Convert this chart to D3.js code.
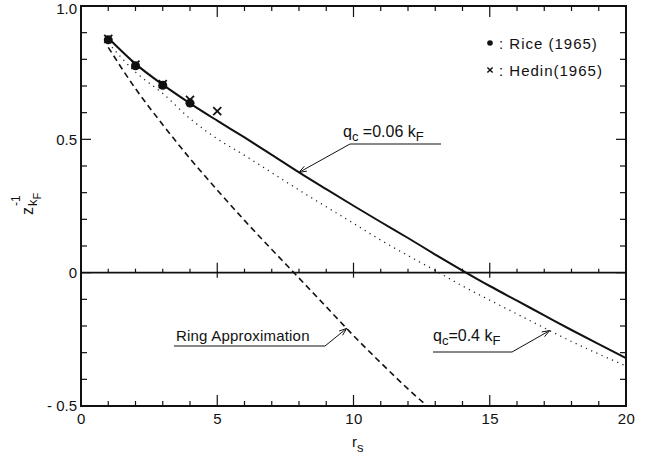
<!DOCTYPE html>
<html>
<head>
<meta charset="utf-8">
<script src="https://cdn.jsdelivr.net/npm/d3@7/dist/d3.min.js"></script>
<style>
  html, body { margin: 0; padding: 0; background: #fff; }
  svg { display: block; }
  text { font-family: "Liberation Sans", Arial, sans-serif; fill: #111; }
</style>
</head>
<body>
<svg id="chart" width="647" height="457"></svg>
<script>
// r_s grid shared by the two screened curves
const rsGrid = [1, 2, 3, 4, 5, 6, 7, 8, 9, 10, 11, 12, 13, 14, 15, 16, 17, 18, 19, 20];
// z_kF^-1 with q_c = 0.06 k_F (solid)
const zSoft = [0.880, 0.783, 0.705, 0.635, 0.570, 0.507, 0.442, 0.376, 0.313, 0.251, 0.190, 0.130, 0.068, 0.008, -0.050, -0.105, -0.160, -0.215, -0.268, -0.320];
// z_kF^-1 with q_c = 0.4 k_F (dotted)
const zHard = [0.862, 0.752, 0.672, 0.578, 0.502, 0.440, 0.375, 0.310, 0.247, 0.185, 0.122, 0.064, 0.008, -0.050, -0.103, -0.155, -0.207, -0.258, -0.305, -0.350];
// ring approximation (dashed)
const ringRs = [1, 2, 3, 4, 5, 6, 7, 8, 9, 10, 11, 12, 12.7];
const zRing = [0.845, 0.690, 0.555, 0.428, 0.310, 0.196, 0.087, -0.020, -0.128, -0.236, -0.338, -0.436, -0.500];
// literature points
const riceRs = [1, 2, 3, 4];
const riceZ = [0.873, 0.776, 0.703, 0.636];
const hedinRs = [1, 2, 3, 4, 5];
const hedinZ = [0.877, 0.780, 0.707, 0.648, 0.606];
// tick values
const xMajor = [0, 5, 10, 15, 20];
const xMinor = d3.range(0, 21, 1);
const yMajor = [-0.5, 0, 0.5, 1.0];
const yMinor = d3.range(-5, 11, 1).map(d => d / 10);

const svg = d3.select("#chart");
const padL = 81, padR = 626, padT = 6, padB = 406;
const x = d3.scaleLinear().domain([0, 20]).range([padL, padR]);
const y = d3.scaleLinear().domain([-0.5, 1.0]).range([padB, padT]);

const ink = "#111";
const isMajorX = d => xMajor.includes(d);
const isMajorY = d => yMajor.some(m => Math.abs(m - d) < 1e-9);

// inward tick marks: x ticks along a horizontal edge, y ticks along a vertical edge
function xTicks(y0, dir, minorLen, majorLen, values) {
  svg.append("g").selectAll("line").data(values).join("line")
    .attr("x1", d => x(d)).attr("x2", d => x(d))
    .attr("y1", y0).attr("y2", d => y0 + dir * (isMajorX(d) ? majorLen : minorLen))
    .attr("stroke", ink).attr("stroke-width", 1.2);
}
function yTicks(x0, dir, minorLen, majorLen) {
  svg.append("g").selectAll("line").data(yMinor).join("line")
    .attr("y1", d => y(d)).attr("y2", d => y(d))
    .attr("x1", x0).attr("x2", d => x0 + dir * (isMajorY(d) ? majorLen : minorLen))
    .attr("stroke", ink).attr("stroke-width", 1.2);
}
xTicks(padB, -1, 5, 11, xMinor);
xTicks(padT, 1, 5, 11, xMinor);
yTicks(padL, 1, 6, 10);
yTicks(padR, -1, 6, 10);

// zero line with its own ticks
svg.append("line").attr("x1", padL).attr("x2", padR)
  .attr("y1", y(0)).attr("y2", y(0)).attr("stroke", ink).attr("stroke-width", 1.6);
xTicks(y(0), -1, 4, 10, xMinor.filter(d => d > 0 && d < 20));
xTicks(y(0), 1, 0, 5, xMajor.slice(1, -1));

// frame
svg.append("rect").attr("x", padL).attr("y", padT)
  .attr("width", padR - padL).attr("height", padB - padT)
  .attr("fill", "none").attr("stroke", ink).attr("stroke-width", 2);

// tick labels
const fmtY = d => d === 0 ? "0" : (d < 0 ? "- 0.5" : d3.format(".1f")(d));
const gx = svg.append("g").attr("transform", `translate(0,${padB})`)
  .call(d3.axisBottom(x).tickValues(xMajor).tickSize(0).tickPadding(7).tickFormat(d3.format("d")));
gx.select(".domain").remove();
gx.selectAll("text").attr("font-size", 15).attr("fill", ink)
  .style("font-family", '"Liberation Sans", Arial, sans-serif').attr("letter-spacing", 0.5);
const gy = svg.append("g").attr("transform", `translate(${padL},0)`)
  .call(d3.axisLeft(y).tickValues(yMajor).tickSize(0).tickPadding(4).tickFormat(fmtY));
gy.select(".domain").remove();
gy.selectAll("text").attr("font-size", 15).attr("fill", ink)
  .style("font-family", '"Liberation Sans", Arial, sans-serif')
  .attr("y", d => d === 1 ? 2.5 : 0);

// axis titles
const xt = svg.append("text").attr("x", 352).attr("y", 447).attr("font-size", 15);
xt.append("tspan").text("r");
xt.append("tspan").attr("dy", 5).attr("font-size", 13).text("s");

const yt = svg.append("g").attr("transform", "translate(33,215) rotate(-90)");
yt.append("text").attr("x", 0).attr("y", 0).attr("font-size", 16).text("z");
const ysub = yt.append("text").attr("x", 9).attr("y", 4).attr("font-size", 13);
ysub.append("tspan").text("k");
ysub.append("tspan").attr("dy", 4).attr("font-size", 11).text("F");
yt.append("text").attr("x", 9).attr("y", -13).attr("font-size", 12).text("-1");

// curves
svg.append("clipPath").attr("id", "clip").append("rect")
  .attr("x", padL).attr("y", padT).attr("width", padR - padL).attr("height", padB - padT);
const plot = svg.append("g").attr("clip-path", "url(#clip)");
const line = d3.line().x(d => x(d[0])).y(d => y(d[1])).curve(d3.curveMonotoneX);

plot.append("path").datum(d3.zip(rsGrid, zSoft)).attr("d", line)
  .attr("fill", "none").attr("stroke", ink).attr("stroke-width", 2);
plot.append("path").datum(d3.zip(rsGrid, zHard)).attr("d", line)
  .attr("fill", "none").attr("stroke", "#222").attr("stroke-width", 1.3)
  .attr("stroke-dasharray", "1.2,4.5");
plot.append("path").datum(d3.zip(ringRs, zRing)).attr("d", line)
  .attr("fill", "none").attr("stroke", ink).attr("stroke-width", 1.6)
  .attr("stroke-dasharray", "6,4");

// literature points
plot.selectAll(".rice").data(d3.zip(riceRs, riceZ)).join("circle")
  .attr("cx", d => x(d[0])).attr("cy", d => y(d[1])).attr("r", 4.5).attr("fill", ink);
const cross = (g, cx, cy, s, w) => {
  g.append("line").attr("x1", cx - s).attr("y1", cy - s).attr("x2", cx + s).attr("y2", cy + s)
    .attr("stroke", ink).attr("stroke-width", w);
  g.append("line").attr("x1", cx - s).attr("y1", cy + s).attr("x2", cx + s).attr("y2", cy - s)
    .attr("stroke", ink).attr("stroke-width", w);
};
d3.zip(hedinRs, hedinZ).forEach(d => cross(plot, x(d[0]), y(d[1]), 4, 1.8));

// legend
svg.append("circle").attr("cx", 490).attr("cy", 43).attr("r", 2.8).attr("fill", ink);
svg.append("text").attr("x", 499).attr("y", 48.5).attr("font-size", 15)
  .attr("letter-spacing", 1.0).text(": Rice (1965)");
cross(svg, 490, 70, 2.6, 1.4);
svg.append("text").attr("x", 499).attr("y", 75.5).attr("font-size", 15)
  .attr("letter-spacing", 1.0).text(": Hedin(1965)");

// callouts with leader lines and arrow heads
const interp = (xs, ys, v) => d3.scaleLinear().domain(xs).range(ys)(v);
function callout(tip, corner, ulEnd) {
  svg.append("polyline")
    .attr("points", [[ulEnd, corner[1]], corner, tip].map(p => p.join(",")).join(" "))
    .attr("fill", "none").attr("stroke", ink).attr("stroke-width", 1);
  const ang = Math.atan2(corner[1] - tip[1], corner[0] - tip[0]);
  const L = 8, a = 0.35;
  const p1 = [tip[0] + L * Math.cos(ang + a), tip[1] + L * Math.sin(ang + a)];
  const p2 = [tip[0] + L * Math.cos(ang - a), tip[1] + L * Math.sin(ang - a)];
  svg.append("polyline").attr("points", [p1, tip, p2].map(p => p.join(",")).join(" "))
    .attr("fill", "none").attr("stroke", ink).attr("stroke-width", 1);
}
callout([x(8), y(interp(rsGrid, zSoft, 8))], [350, 144], 441);
callout([x(9.75), y(interp(ringRs, zRing, 9.75))], [325, 346], 174);
callout([x(17.2), y(interp(rsGrid, zHard, 17.2))], [512, 352], 433);

function qLabel(xp, yp, value) {
  const t = svg.append("text").attr("x", xp).attr("y", yp).attr("font-size", 16);
  t.append("tspan").text("q");
  t.append("tspan").attr("dy", 4).attr("font-size", 13).text("c");
  t.append("tspan").attr("dy", -4).text(value);
  t.append("tspan").attr("dy", 4).attr("font-size", 13).text("F");
}
qLabel(343, 137, " =0.06 k");
qLabel(433, 341, "=0.4 k");

svg.append("text").attr("x", 176).attr("y", 341).attr("font-size", 15)
  .attr("letter-spacing", 0.2).text("Ring Approximation");
</script>
</body>
</html>
